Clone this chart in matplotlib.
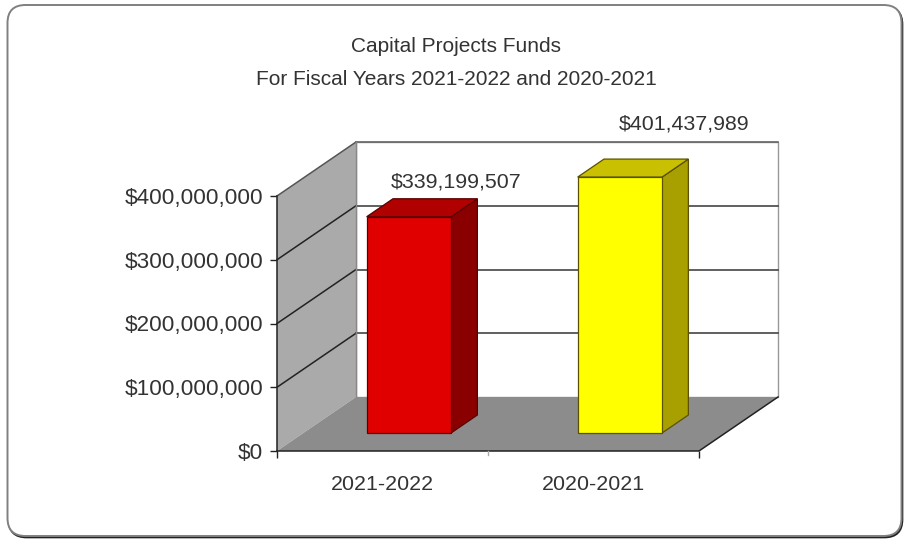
import matplotlib.pyplot as plt
from matplotlib.patches import FancyBboxPatch, Polygon

categories = ["2021-2022", "2020-2021"]
values = [339199507, 401437989]
value_labels = ["$339,199,507", "$401,437,989"]
bar_colors = ["#e00000", "#ffff00"]
top_colors = ["#b00000", "#c8c000"]
side_colors = ["#8a0000", "#a8a000"]
y_ticks = [0, 100000000, 200000000, 300000000, 400000000]
y_labels = ["$0", "$100,000,000", "$200,000,000", "$300,000,000", "$400,000,000"]
title = "Capital Projects Funds\nFor Fiscal Years 2021-2022 and 2020-2021"

W, H = 905, 541
plt.rcParams["font.family"] = ["Liberation Sans", "DejaVu Sans"]
TXT = "#333333"

fig = plt.figure(figsize=(W / 100, H / 100), dpi=100, facecolor="white")

# full-figure layer for the rounded frame
bg = fig.add_axes([0, 0, 1, 1])
bg.set_xlim(0, W)
bg.set_ylim(H, 0)
bg.axis("off")
box = "round,pad=0,rounding_size=18"
bg.add_patch(FancyBboxPatch((8.5, 6.5), 894, 531, boxstyle=box, fc="#222222", ec="#222222", lw=1.2))
bg.add_patch(FancyBboxPatch((7.5, 5), 894, 531, boxstyle=box, fc="white", ec="#808080", lw=1.4))
bg.text(456, 63, title, ha="center", va="center", fontsize=15, color=TXT, linespacing=1.9)

# front plane of the chart: x 277-699 px, y 451-196 px
ax = fig.add_axes([277 / W, 1 - 451 / H, 422 / W, 255 / H])
ax.set_xlim(0, 2)
ax.set_ylim(0, 400000000)
ax.patch.set_alpha(0)
for s in ax.spines.values():
    s.set_visible(False)

# depth offset in data units
dx = 79 / 211
dy = 54 / 255 * 400000000
LINE = "#222222"


def depth(x, y, d):
    return (x + dx * d, y + dy * d)


top = y_ticks[-1]
# back wall, side wall, floor
ax.add_patch(Polygon([depth(0, 0, 1), depth(2, 0, 1), depth(2, top, 1), depth(0, top, 1)],
                     fc="white", ec="#999999", lw=1, clip_on=False, zorder=1))
ax.add_patch(Polygon([(0, 0), depth(0, 0, 1), depth(0, top, 1), (0, top)],
                     fc="#aaaaaa", ec="none", clip_on=False, zorder=2))
ax.add_patch(Polygon([(0, 0), (2, 0), depth(2, 0, 1), depth(0, 0, 1)],
                     fc="#8c8c8c", ec="none", clip_on=False, zorder=2))

# gridlines run along the side wall and the back wall
for t in y_ticks:
    if t > 0:
        ax.plot([0, dx], [t, t + dy], color="#555555" if t == top else LINE, lw=1.1,
                clip_on=False, zorder=3)
        ax.plot([dx, 2 + dx], [t + dy, t + dy], color="#666666" if t == top else "#444444",
                lw=1.2, clip_on=False, zorder=3)
ax.plot([dx, dx], [dy, top + dy], color="#888888", lw=1, clip_on=False, zorder=3)
ax.plot([0, 2, 2 + dx], [0, 0, dy], color=LINE, lw=1.1, clip_on=False, zorder=3)
ax.plot([0, 0], [0, top], color=LINE, lw=1.1, clip_on=False, zorder=3)

# 3d bars
bar_w = 0.4
d0, d1 = 1 / 3, 2 / 3
label_shift = [(15, 5), (27, 18.5)]
for i, v in enumerate(values):
    x0 = i + 0.5 - bar_w / 2
    x1 = x0 + bar_w
    edge = "#5a0000" if i == 0 else "#5a5000"
    ax.add_patch(Polygon([depth(x1, 0, d0), depth(x1, 0, d1), depth(x1, v, d1), depth(x1, v, d0)],
                         fc=side_colors[i], ec=edge, lw=0.9, clip_on=False, zorder=4))
    ax.add_patch(Polygon([depth(x0, v, d0), depth(x1, v, d0), depth(x1, v, d1), depth(x0, v, d1)],
                         fc=top_colors[i], ec=edge, lw=0.9, clip_on=False, zorder=4))
    ax.add_patch(Polygon([depth(x0, 0, d0), depth(x1, 0, d0), depth(x1, v, d0), depth(x0, v, d0)],
                         fc=bar_colors[i], ec=edge, lw=0.9, clip_on=False, zorder=5))
    lx, ly = depth(i + 0.5, v, d1)
    ax.annotate(value_labels[i], (lx, ly), xytext=label_shift[i], textcoords="offset points",
                ha="center", va="bottom", fontsize=15.4, color=TXT, annotation_clip=False, zorder=6)

ax.set_yticks(y_ticks, y_labels)
ax.set_xticks([0, 2], ["", ""])
ax.tick_params(axis="y", length=5, width=1, color=LINE, labelsize=16.2, labelcolor=TXT, pad=5)
ax.tick_params(axis="x", length=5, width=1, color=LINE)
ax.plot([1, 1], [0, -6000000], color="#aaaaaa", lw=1, clip_on=False, zorder=3)
for i, c in enumerate(categories):
    ax.annotate(c, (i + 0.5, 0), xytext=(0, -17), textcoords="offset points", ha="center", va="top",
                fontsize=15.4, color=TXT, annotation_clip=False)

fig.savefig("out.png", dpi=100)
plt.close(fig)
